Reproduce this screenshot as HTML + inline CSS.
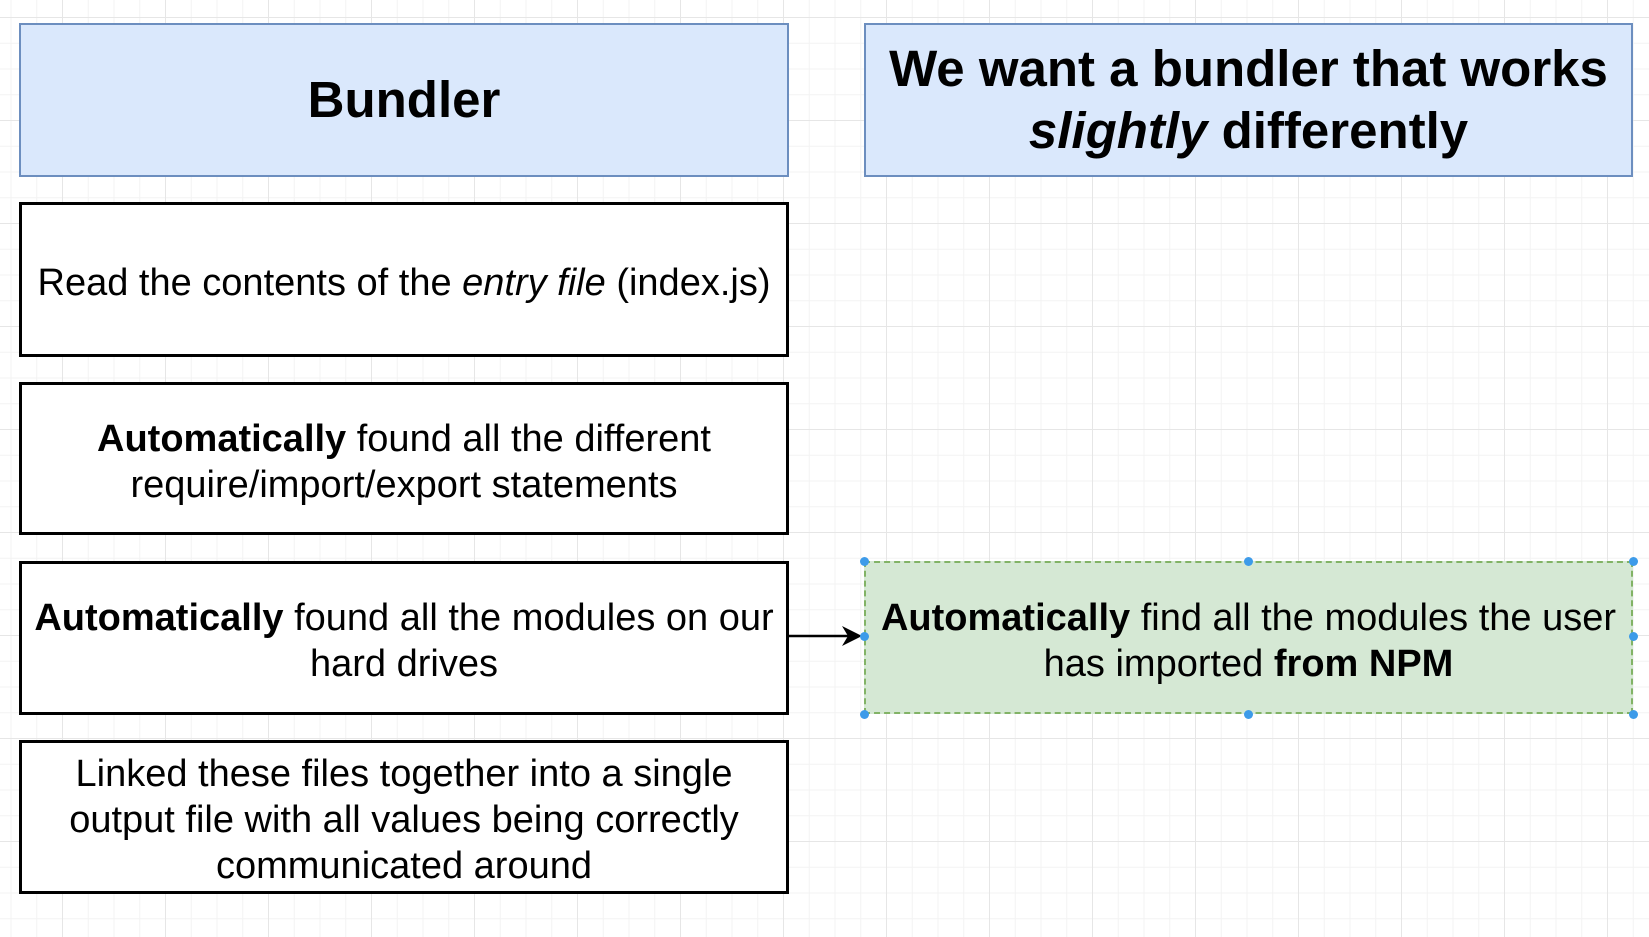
<!DOCTYPE html>
<html><head><style>
body{margin:0;width:1649px;height:937px;overflow:hidden;background:#fff;
background-image:linear-gradient(#e6e6e6 1px,transparent 1px),linear-gradient(90deg,#e6e6e6 1px,transparent 1px),linear-gradient(#f3f3f3 1px,transparent 1px),linear-gradient(90deg,#f3f3f3 1px,transparent 1px);
background-size:103px 103px,103px 103px,25.75px 25.75px,25.75px 25.75px;background-position:0 17px,62px 0,0 17px,62px 0;
font-family:"Liberation Sans",sans-serif;position:relative}
.b{position:absolute;box-sizing:border-box;display:flex;align-items:center;justify-content:center;text-align:center;color:#000}
.h{background:#dae8fc;border:2px solid #6c8ebf;font-weight:bold;font-size:51px;line-height:62px}
.w{background:#fff;border:3px solid #000;font-size:38px;line-height:46px;padding-top:6px}
.g{background:#d5e8d4;border:2px dashed #82b366;font-size:38px;line-height:46px;padding-top:6px}
.d{position:absolute;width:9px;height:9px;border-radius:50%;background:#3d9be9}
</style></head><body>
<div class="b h" style="left:19px;top:23px;width:770px;height:154px"><div>Bundler</div></div>
<div class="b h" style="left:864px;top:23px;width:769px;height:154px"><div style="white-space:nowrap">We want a bundler that works<br><i>slightly</i> differently</div></div>
<div class="b w" style="left:19px;top:202px;width:770px;height:155px"><div style="white-space:nowrap">Read the contents of the <i>entry file</i> (index.js)</div></div>
<div class="b w" style="left:19px;top:382px;width:770px;height:153px"><div style="white-space:nowrap"><b>Automatically</b> found all the different<br>require/import/export statements</div></div>
<div class="b w" style="left:19px;top:561px;width:770px;height:154px"><div style="white-space:nowrap"><b>Automatically</b> found all the modules on our<br>hard drives</div></div>
<div class="b w" style="left:19px;top:740px;width:770px;height:154px"><div style="white-space:nowrap">Linked these files together into a single<br>output file with all values being correctly<br>communicated around</div></div>
<div class="b g" style="left:864px;top:561px;width:769px;height:153px"><div style="white-space:nowrap"><b>Automatically</b> find all the modules the user<br>has imported <b>from NPM</b></div></div>
<svg style="position:absolute;left:0;top:0" width="1649" height="937">
<line x1="789" y1="636" x2="855" y2="636" stroke="#000" stroke-width="2.5"/>
<path d="M842 626 L862 636 L842 646 L848 636 Z" fill="#000"/>
</svg>
<div class="d" style="left:860px;top:557px"></div><div class="d" style="left:1244px;top:557px"></div><div class="d" style="left:1629px;top:557px"></div>
<div class="d" style="left:860px;top:632px"></div><div class="d" style="left:1629px;top:632px"></div>
<div class="d" style="left:860px;top:710px"></div><div class="d" style="left:1244px;top:710px"></div><div class="d" style="left:1629px;top:710px"></div>
</body></html>
